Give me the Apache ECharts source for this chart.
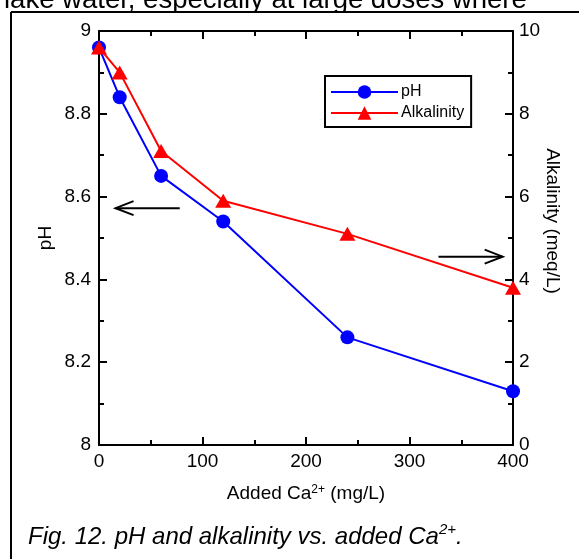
<!DOCTYPE html>
<html>
<head>
<meta charset="utf-8">
<script src="https://cdn.jsdelivr.net/npm/echarts@6/dist/echarts.min.js"></script>
<style>
html,body{margin:0;padding:0;background:#fff;}
#c{width:579px;height:559px;}
</style>
</head>
<body>
<div id="c"></div>
<script>
const addedCa = [0, 20, 60, 120, 240, 400];
const pHValues = [8.96, 8.84, 8.65, 8.54, 8.26, 8.13];
const alkalinityValues = [9.6, 9.0, 7.1, 5.9, 5.1, 3.8];
const seriesNames = ['pH', 'Alkalinity'];
const xTicks = [0, 100, 200, 300, 400];
const pHTicks = [8, 8.2, 8.4, 8.6, 8.8, 9];
const alkTicks = [0, 2, 4, 6, 8, 10];
// arrow annotations in data coordinates (x, pH)
const leftArrow = { from: [78, 8.572], to: [16, 8.572] };
const rightArrow = { from: [328, 8.455], to: [390, 8.455] };

const FONT = 'Arial, "Liberation Sans", sans-serif';
const chart = echarts.init(document.getElementById('c'));
function axisCommon() {
  return {
    axisLine: { show: true, onZero: false, lineStyle: { color: '#000', width: 2 } },
    axisTick: { show: true, inside: true, length: 8, lineStyle: { color: '#000', width: 2 } },
    minorTick: { show: true, splitNumber: 2, length: 5, lineStyle: { color: '#000', width: 2 } },
    splitLine: { show: false },
    nameMoveOverlap: false,
    axisLabel: { color: '#000', fontSize: 19, fontFamily: FONT }
  };
}
function mk(extra) { const o = axisCommon(); for (const k in extra) { o[k] = (o[k] && typeof o[k] === 'object' && !Array.isArray(o[k]) && typeof extra[k] === 'object') ? Object.assign(o[k], extra[k]) : extra[k]; } return o; }

chart.setOption({
  animation: false,
  backgroundColor: '#fff',
  grid: { left: 99, right: 66, top: 31, bottom: 114, containLabel: false },
  legend: {
    left: 325, top: 76, orient: 'vertical',
    data: seriesNames,
    itemWidth: 67, itemHeight: 17, itemGap: 5,
    padding: [8, 7, 6, 5],
    borderColor: '#000', borderWidth: 2,
    textStyle: { color: '#000', fontSize: 16, fontFamily: FONT, padding: [0,0,0,-2] }
  },
  xAxis: [
    mk({
      type: 'value', min: xTicks[0], max: xTicks[xTicks.length - 1], interval: 100,
      position: 'bottom',
      axisLabel: { margin: 7 },
      name: 'Added Ca{s|2+} (mg/L)', nameLocation: 'middle', nameGap: 39,
      nameTextStyle: { color: '#000', fontSize: 19, fontFamily: FONT,
        rich: { s: { fontSize: 12, fontFamily: FONT, verticalAlign: 'top' } } }
    }),
    mk({
      type: 'value', min: 0, max: 400, interval: 100, position: 'top',
      axisLabel: { show: false }
    })
  ],
  yAxis: [
    mk({
      type: 'value', min: pHTicks[0], max: pHTicks[pHTicks.length - 1], interval: 0.2,
      position: 'left',
      axisLabel: { margin: 8, formatter: v => (Math.round(v * 10) / 10).toString() },
      name: 'pH', nameLocation: 'middle', nameGap: 44, nameRotate: 90,
      nameTextStyle: { color: '#000', fontSize: 19, fontFamily: FONT }
    }),
    mk({
      type: 'value', min: alkTicks[0], max: alkTicks[alkTicks.length - 1], interval: 2,
      position: 'right',
      axisLabel: { margin: 6 },
      name: 'Alkalinity (meq/L)', nameLocation: 'middle', nameGap: 30, nameRotate: -90,
      nameTextStyle: { color: '#000', fontSize: 19, fontFamily: FONT, padding: [0, 34, 0, 0] }
    })
  ],
  series: [
    {
      name: seriesNames[0], type: 'line', xAxisIndex: 0, yAxisIndex: 0,
      data: addedCa.map((x, i) => [x, pHValues[i]]),
      symbol: 'circle', symbolSize: 14,
      lineStyle: { color: '#0000FF', width: 2 },
      itemStyle: { color: '#0000FF' }, z: 3
    },
    {
      name: seriesNames[1], type: 'line', xAxisIndex: 0, yAxisIndex: 1,
      data: addedCa.map((x, i) => [x, alkalinityValues[i]]),
      symbol: 'triangle', symbolSize: [16, 14],
      lineStyle: { color: '#FF0000', width: 2 },
      itemStyle: { color: '#FF0000' }, z: 4
    }
  ]
});

function arrowGraphic(a) {
  const p0 = chart.convertToPixel({ xAxisIndex: 0, yAxisIndex: 0 }, a.from);
  const p1 = chart.convertToPixel({ xAxisIndex: 0, yAxisIndex: 0 }, a.to);
  const dir = Math.sign(p1[0] - p0[0]);
  return [
    { type: 'line', shape: { x1: p0[0], y1: p0[1], x2: p1[0], y2: p1[1] },
      style: { stroke: '#000', lineWidth: 2 }, z: 10 },
    { type: 'polyline', shape: { points: [[p1[0] - dir * 18, p1[1] - 7], [p1[0], p1[1]], [p1[0] - dir * 18, p1[1] + 7]] },
      style: { stroke: '#000', lineWidth: 2, fill: null }, z: 10 }
  ];
}

chart.setOption({
  graphic: [
    { type: 'text', x: 4, y: 14, style: { text: 'lake water, especially at large doses where', fontSize: 27.5, fontFamily: FONT, fill: '#000', verticalAlign: 'bottom' } },
    { type: 'line', shape: { x1: 11, y1: 12, x2: 579, y2: 12 }, style: { stroke: '#000', lineWidth: 2 }, z: 20 },
    { type: 'rect', shape: { x: 0, y: 13, width: 579, height: 6 }, style: { fill: '#fff' }, z: 19 },
    { type: 'line', shape: { x1: 11, y1: 12, x2: 11, y2: 559 }, style: { stroke: '#000', lineWidth: 2 }, z: 20 },
    { type: 'text', left: 28, top: 522, style: {
        text: 'Fig. 12. pH and alkalinity vs. added Ca{s|2+}.',
        fontSize: 24, fontStyle: 'italic', fontFamily: FONT, fill: '#000',
        rich: { s: { fontSize: 15, fontStyle: 'italic', fontFamily: FONT, verticalAlign: 'top', lineHeight: 30 } } } }
  ].concat(arrowGraphic(leftArrow), arrowGraphic(rightArrow))
});
</script>
</body>
</html>
